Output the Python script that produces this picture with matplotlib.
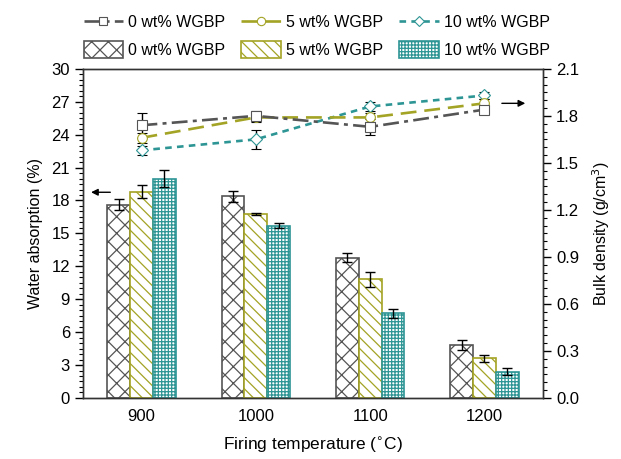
import numpy as np
import matplotlib
matplotlib.use("Agg")
import matplotlib.pyplot as plt
from matplotlib.ticker import MultipleLocator
from matplotlib.lines import Line2D
from matplotlib.patches import Patch

plt.rcParams['font.family'] = ['Liberation Sans', 'DejaVu Sans']
plt.rcParams['hatch.linewidth'] = 0.9

# --- DATA ---
temps = ["900", "1000", "1100", "1200"]
series = ["0 wt% WGBP", "5 wt% WGBP", "10 wt% WGBP"]

absorption = {
    "0 wt% WGBP": [17.6, 18.4, 12.8, 4.8],
    "5 wt% WGBP": [18.8, 16.8, 10.8, 3.6],
    "10 wt% WGBP": [20.0, 15.7, 7.7, 2.4],
}
absorption_err = {
    "0 wt% WGBP": [0.5, 0.5, 0.4, 0.45],
    "5 wt% WGBP": [0.6, 0.1, 0.65, 0.3],
    "10 wt% WGBP": [0.75, 0.25, 0.45, 0.3],
}
density = {
    "0 wt% WGBP": [1.74, 1.80, 1.73, 1.84],
    "5 wt% WGBP": [1.66, 1.79, 1.79, 1.88],
    "10 wt% WGBP": [1.58, 1.65, 1.86, 1.93],
}
density_err = {
    "0 wt% WGBP": [0.08, 0.03, 0.05, 0.03],
    "5 wt% WGBP": [0.03, 0.03, 0.03, 0.03],
    "10 wt% WGBP": [0.03, 0.06, 0.03, 0.02],
}

colors = {"0 wt% WGBP": "#555555", "5 wt% WGBP": "#a3a325", "10 wt% WGBP": "#2e9595"}
hatches = {"0 wt% WGBP": "xx", "5 wt% WGBP": "\\\\\\", "10 wt% WGBP": "+++++"}
markers = {"0 wt% WGBP": "s", "5 wt% WGBP": "o", "10 wt% WGBP": "D"}
dashes = {"0 wt% WGBP": (6, 2, 1.5, 2), "5 wt% WGBP": (6, 3), "10 wt% WGBP": (2.5, 2)}
msize = {"0 wt% WGBP": 7, "5 wt% WGBP": 7, "10 wt% WGBP": 6}

fig = plt.figure(figsize=(6.21, 4.59), dpi=100)
ax = fig.add_axes([0.134, 0.133, 0.740, 0.717])
ax2 = ax.twinx()

x = np.arange(len(temps))
w = 0.2
for i, s in enumerate(series):
    ax.bar(x + (i - 1) * w, absorption[s], w, facecolor="white", edgecolor=colors[s],
           hatch=hatches[s], linewidth=1.2, zorder=2)
    ax.errorbar(x + (i - 1) * w, absorption[s], yerr=absorption_err[s], fmt="none",
                ecolor="black", elinewidth=1.0, capsize=3.5, capthick=1.0, zorder=3)

for s in reversed(series):
    ax2.errorbar(x, density[s], yerr=density_err[s], color=colors[s], ecolor="black",
                 elinewidth=1.0, capsize=3.5, capthick=1.0, linewidth=1.9,
                 dashes=dashes[s], marker=markers[s], markersize=msize[s],
                 markerfacecolor="white", markeredgecolor=colors[s], markeredgewidth=0.8)

ax.set_xlim(-0.51, 3.51)
ax.set_ylim(0, 30)
ax2.set_ylim(0, 2.1)
ax.set_xticks(x)
ax.set_xticklabels(temps)
ax.yaxis.set_major_locator(MultipleLocator(3))
ax.yaxis.set_minor_locator(MultipleLocator(0.5))
ax2.yaxis.set_major_locator(MultipleLocator(0.3))
ax2.yaxis.set_minor_locator(MultipleLocator(0.05))
ax2.yaxis.set_major_formatter(plt.FuncFormatter(lambda v, p: f"{v:.1f}"))

ax.tick_params(axis="x", length=0, labelsize=12, pad=8)
ax.tick_params(axis="y", which="major", direction="out", length=6, width=1, labelsize=12)
ax.tick_params(axis="y", which="minor", direction="out", length=3, width=0.8)
ax2.tick_params(axis="y", which="major", direction="out", length=6, width=1, labelsize=12)
ax2.tick_params(axis="y", which="minor", direction="out", length=3, width=0.8)
for a in (ax, ax2):
    for sp in a.spines.values():
        sp.set_linewidth(1.0)
        sp.set_color("#333333")

ax.set_xlabel("Firing temperature ($^{\\circ}$C)", fontsize=12.5, labelpad=8)
ax.set_ylabel("Water absorption (%)", fontsize=11.5, labelpad=6)
ax2.set_ylabel("Bulk density (g/cm$^3$)", fontsize=11.5, labelpad=8)

# arrows pointing to the axes
ax.annotate("", xy=(0.011, 18.75), xytext=(0.065, 18.75), xycoords=("axes fraction", "data"),
            arrowprops=dict(arrowstyle="-|>", color="black", lw=1.0, mutation_scale=10))
ax2.annotate("", xy=(0.968, 1.88), xytext=(0.905, 1.88), xycoords=("axes fraction", "data"),
             arrowprops=dict(arrowstyle="-|>", color="black", lw=1.0, mutation_scale=10))

# legends
line_handles = [Line2D([0], [0], color=colors[s], lw=1.9, dashes=dashes[s], marker=markers[s],
                       markersize=msize[s] - 1, markerfacecolor="white",
                       markeredgecolor=colors[s], markeredgewidth=0.8) for s in series]
bar_handles = [Patch(facecolor="white", edgecolor=colors[s], hatch=hatches[s], linewidth=1.2)
               for s in series]
leg1 = fig.legend(line_handles, series, loc="center", bbox_to_anchor=(0.51, 0.952), ncol=3,
                  frameon=False, fontsize=11.5, handlelength=2.5, handletextpad=0.3,
                  columnspacing=1.0)
leg2 = fig.legend(bar_handles, series, loc="center", bbox_to_anchor=(0.51, 0.892), ncol=3,
                  frameon=False, fontsize=11.5, handlelength=2.5, handleheight=1.2,
                  handletextpad=0.3, columnspacing=1.0)

fig.savefig("out.png", dpi=100)
